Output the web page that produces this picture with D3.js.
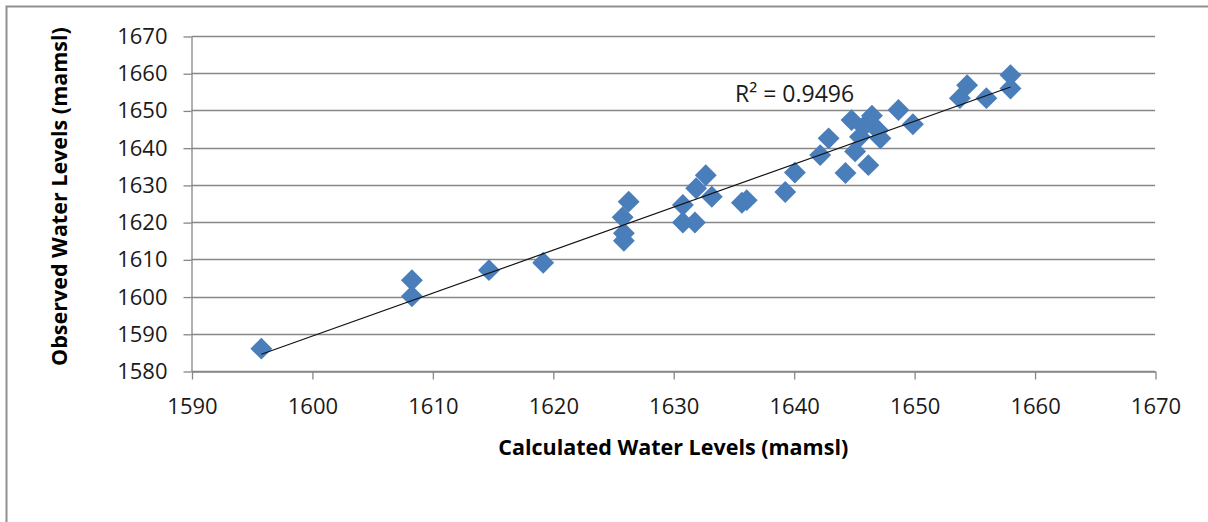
<!DOCTYPE html>
<html>
<head>
<meta charset="utf-8">
<script src="https://cdn.jsdelivr.net/npm/d3@7"></script>
<style>
  html, body { margin: 0; padding: 0; background: #fff; }
  svg { display: block; }
</style>
</head>
<body>
<svg id="chart"></svg>
<script>
// Calculated vs observed water levels (mamsl)
const calculated = [
  1595.8, 1608.3, 1608.3, 1614.7, 1619.2,
  1626.3, 1625.8, 1625.9, 1625.9,
  1630.8, 1630.8, 1631.8, 1632.7, 1631.9, 1633.2,
  1636.1, 1635.7, 1639.3, 1640.1, 1642.2, 1642.9,
  1644.3, 1644.8, 1645.1, 1646.2, 1646.5, 1645.8, 1647.0, 1645.5, 1647.2,
  1648.7, 1649.9, 1653.8, 1654.4, 1656.0, 1658.0, 1658.0
];
const observed = [
  1586.0, 1604.4, 1600.1, 1607.1, 1609.1,
  1625.5, 1621.3, 1617.0, 1615.0,
  1624.6, 1619.9, 1619.9, 1632.6, 1629.1, 1626.8,
  1625.9, 1625.2, 1628.1, 1633.3, 1638.0, 1642.5,
  1633.2, 1647.4, 1639.0, 1635.3, 1648.6, 1645.6, 1644.7, 1642.9, 1642.5,
  1650.1, 1646.3, 1653.3, 1656.8, 1653.3, 1659.5, 1655.9
];
const xTicks = [1590, 1600, 1610, 1620, 1630, 1640, 1650, 1660, 1670];
const yTicks = [1580, 1590, 1600, 1610, 1620, 1630, 1640, 1650, 1660, 1670];
const r2Label = "R² = 0.9496";

const width = 1208, height = 522;
const font = "'Open Sans', 'Liberation Sans', sans-serif";
const gridColor = "#878787";

const svg = d3.select("#chart")
  .attr("width", width)
  .attr("height", height)
  .attr("viewBox", [0, 0, width, height]);

// chart frame (only top and left edges show)
svg.append("path")
  .attr("d", `M6.5,${height} V6.5 H${width}`)
  .attr("fill", "none")
  .attr("stroke", "#909090")
  .attr("stroke-width", 2);

const x = d3.scaleLinear().domain([1590, 1670]).range([191.5, 1155]);
const y = d3.scaleLinear().domain([1580, 1670]).range([371, 36]);

// horizontal gridlines
svg.append("g")
  .selectAll("line")
  .data(yTicks)
  .join("line")
  .attr("x1", x(1590))
  .attr("x2", x(1670))
  .attr("y1", d => Math.round(y(d)) + 0.5)
  .attr("y2", d => Math.round(y(d)) + 0.5)
  .attr("stroke", gridColor)
  .attr("stroke-width", 1.3);

// axes
const yAxis = svg.append("g")
  .attr("transform", `translate(${x(1590)},0.5)`)
  .call(d3.axisLeft(y).tickValues(yTicks).tickFormat(d3.format("d"))
    .tickSize(8).tickSizeOuter(0).tickPadding(16));

const xAxis = svg.append("g")
  .attr("transform", `translate(0.5,${Math.round(y(1580)) + 0.5})`)
  .call(d3.axisBottom(x).tickValues(xTicks).tickFormat(d3.format("d"))
    .tickSize(8).tickSizeOuter(0).tickPadding(19));

[yAxis, xAxis].forEach(g => {
  g.select(".domain").attr("stroke", gridColor).attr("stroke-width", 1.3);
  g.selectAll(".tick line").attr("stroke", gridColor).attr("stroke-width", 1.3);
  g.selectAll(".tick text")
    .attr("fill", "#1a1a1a")
    .style("font-family", font)
    .style("font-size", "22px");
});

// diamond markers
const diamond = d3.symbol().type(d3.symbolSquare).size(240);
svg.append("g")
  .selectAll("path")
  .data(calculated.map((d, i) => [d, observed[i]]))
  .join("path")
  .attr("d", diamond)
  .attr("transform", d => `translate(${x(d[0])},${y(d[1])}) rotate(45)`)
  .attr("fill", "#4a7ebb");

// linear trendline (least squares), drawn over the markers
const mx = d3.mean(calculated), my = d3.mean(observed);
const sxy = d3.sum(calculated, (d, i) => (d - mx) * (observed[i] - my));
const sxx = d3.sum(calculated, d => (d - mx) * (d - mx));
const slope = sxy / sxx, intercept = my - slope * mx;
const [x0, x1] = d3.extent(calculated);

svg.append("line")
  .attr("x1", x(x0))
  .attr("y1", y(intercept + slope * x0))
  .attr("x2", x(x1))
  .attr("y2", y(intercept + slope * x1))
  .attr("stroke", "#111")
  .attr("stroke-width", 1.2);

// R² label
svg.append("text")
  .attr("x", 735)
  .attr("y", 102)
  .attr("fill", "#1a1a1a")
  .style("font-family", font)
  .style("font-size", "23px")
  .text(r2Label);

// axis titles
svg.append("text")
  .attr("x", (x(1590) + x(1670)) / 2)
  .attr("y", 455)
  .attr("text-anchor", "middle")
  .attr("fill", "#000")
  .style("font-family", font)
  .style("font-size", "21.5px")
  .style("font-weight", "bold")
  .text("Calculated Water Levels (mamsl)");

svg.append("text")
  .attr("transform", `translate(67,${(y(1580) + y(1670)) / 2 - 7}) rotate(-90)`)
  .attr("text-anchor", "middle")
  .attr("fill", "#000")
  .style("font-family", font)
  .style("font-size", "21.5px")
  .style("font-weight", "bold")
  .text("Observed Water Levels (mamsl)");
</script>
</body>
</html>
